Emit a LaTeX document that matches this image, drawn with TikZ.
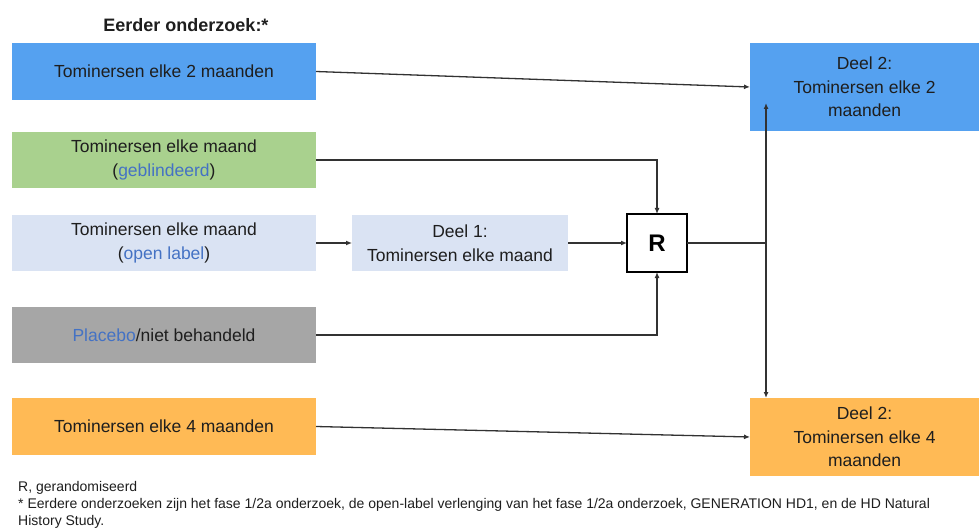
\documentclass[tikz,border=0pt]{standalone}
\usepackage{fontspec}
\setmainfont{Liberation Sans}
\usetikzlibrary{
  positioning,
  arrows.meta,
  calc
}
\usepackage{xcolor}
\definecolor{blauw}{RGB}{85,161,240}
\definecolor{groen}{RGB}{169,209,142}
\definecolor{lichtblauw}{RGB}{218,227,243}
\definecolor{grijs}{RGB}{166,166,166}
\definecolor{oranje}{RGB}{255,186,85}
\definecolor{tekstblauw}{RGB}{68,114,196}
\definecolor{tekst}{RGB}{30,30,30}
\definecolor{lijn}{RGB}{50,50,50}
\tikzstyle{arrow}     = [line width=1.3pt, draw=lijn, -{Latex[length=6pt,width=5pt]}]
\tikzstyle{lijnstuk}  = [line width=1.3pt, draw=lijn]

\begin{document}
\begin{tikzpicture}[x=1pt,y=-1pt,
groepnode/.style={rectangle, minimum width=304pt, minimum height=56pt, inner sep=0pt, outer sep=0pt, align=center, text=tekst, font=\fontsize{17.5}{23.5}\selectfont},
deelnode/.style={groepnode, minimum width=229pt},
rnode/.style={rectangle, draw=black, fill=white, line width=1.2pt, minimum width=60pt, minimum height=58pt, inner sep=0pt, outer sep=0pt, font=\fontsize{24}{28}\selectfont\bfseries},
]
\useasboundingbox (0,0) rectangle (979,529);

%Nodes
\node[text=tekst, font=\fontsize{18}{22}\selectfont\bfseries] (titel) at (186,25) {Eerder onderzoek:*};
\node[groepnode, fill=blauw, minimum height=57pt] (a) at (164,71.5) {Tominersen elke 2 maanden};
\node[groepnode, fill=groen]      (b) [below=32pt of a] {Tominersen elke maand\\(\textcolor{tekstblauw}{geblindeerd})};
\node[groepnode, fill=lichtblauw] (c) [below=27pt of b] {Tominersen elke maand\\(\textcolor{tekstblauw}{open label})};
\node[groepnode, fill=grijs]      (d) [below=36pt of c] {\textcolor{tekstblauw}{Placebo}/niet behandeld};
\node[groepnode, fill=oranje, minimum height=57pt] (e) [below=35pt of d] {Tominersen elke 4 maanden};
\node[groepnode, fill=lichtblauw, minimum width=216pt] (deel1) [right=36pt of c] {Deel 1:\\Tominersen elke maand};
\node[rnode]                      (r) [right=59pt of deel1] {R};
\node[deelnode, fill=blauw, minimum height=88pt]  (d2a) at (864.5,87) {Deel 2:\\Tominersen elke 2\\maanden};
\node[deelnode, fill=oranje, minimum height=78pt] (d2b) at (864.5,437) {Deel 2:\\Tominersen elke 4\\maanden};
\node[anchor=north west, align=left, inner sep=0pt, text=tekst, font=\fontsize{14}{17}\selectfont] (voetnoot) at (18,481) {R, gerandomiseerd\\{}* Eerdere onderzoeken zijn het fase 1/2a onderzoek, de open-label verlenging van het fase 1/2a onderzoek, GENERATION HD1, en de HD Natural\\History Study.};

\coordinate (splits) at ($(r.east)+(79,0)$);
\coordinate (d2ain)  at ($(d2a.south west)+(16,-28)$);

%Lines
\draw[arrow] (a.east) -- (d2a.west);
\draw[arrow] (b.east) -| (r.north);
\draw[arrow] (c.east) -- (deel1.west);
\draw[arrow] (deel1.east) -- (r.west);
\draw[arrow] (d.east) -| (r.south);
\draw[arrow] (e.east) -- (d2b.west);
\draw[lijnstuk] (r.east) -- (splits);
\draw[arrow] (splits) -- (d2ain);
\draw[arrow] (splits) -- (splits |- d2b.north);
\end{tikzpicture}
\end{document}
